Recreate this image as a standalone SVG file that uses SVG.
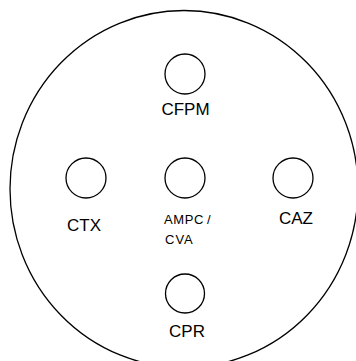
<svg xmlns="http://www.w3.org/2000/svg" width="356" height="361" viewBox="0 0 356 361">
<style>
.c{fill:#fff;stroke:#000;stroke-width:1.3}
.t{font-family:"Liberation Sans",Arial,sans-serif;font-size:17px;fill:#000;text-anchor:middle}
.s{font-family:"Liberation Sans",Arial,sans-serif;font-size:13px;fill:#000}
</style>
<rect width="356" height="361" fill="#fff"/>
<g id="outer"><ellipse cx="184" cy="189" rx="174" ry="178.5" fill="none" stroke="#000" stroke-width="1.3"/></g>
<g id="connectors"></g>
<g id="cfpm"><circle class="c" cx="185" cy="74" r="20"/><text class="t" x="185.5" y="115">CFPM</text></g>
<g id="ctx"><circle class="c" cx="86" cy="178" r="20"/><text class="t" x="84" y="230.5">CTX</text></g>
<g id="ampc"><circle class="c" cx="185" cy="178" r="20"/><text class="s" x="164" y="224.3" letter-spacing="0.6">AMPC<tspan dx="3">/</tspan></text><text class="s" x="165" y="244.3" letter-spacing="1">CVA</text></g>
<g id="caz"><circle class="c" cx="293" cy="178" r="20"/><text class="t" x="296" y="224">CAZ</text></g>
<g id="cpr"><circle class="c" cx="185" cy="293.5" r="19.5"/><text class="t" x="187" y="336.7">CPR</text></g>
</svg>
